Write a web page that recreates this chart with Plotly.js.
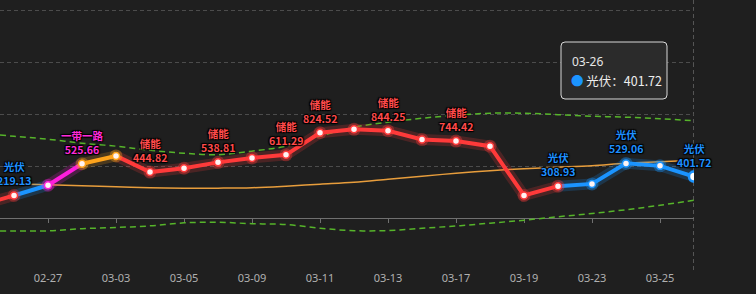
<!DOCTYPE html>
<html><head><meta charset="utf-8">
<script src="https://cdn.plot.ly/plotly-3.0.1.min.js"></script>
<style>html,body{margin:0;padding:0;background:#1f1f1f;}#chart{width:756px;height:294px;}</style>
</head><body><div id="chart"></div>
<script>
const dates = ['02-25','02-26','02-27','03-02','03-03','03-04','03-05','03-06','03-09','03-10','03-11','03-12','03-13','03-16','03-17','03-18','03-19','03-20','03-23','03-24','03-25','03-26'];
const values = [125, 219.13, 318, 525.66, 601, 444.82, 482, 538.81, 582, 611.29, 824.52, 858, 844.25, 759, 744.42, 695, 219, 308.93, 331, 529.06, 505, 401.72];
const maLine = [347, 333, 323, 314, 304, 294, 290, 290, 294, 309, 328, 347, 376, 405, 434, 458, 478, 492, 507, 531, 545, 560];
const upperBand = [820, 791, 762, 724, 695, 656, 627, 613, 647, 695, 791, 878, 926, 965, 994, 1013, 1013, 999, 984, 975, 960, 941];
const lowerBand = [-123, -123, -123, -101, -90, -74, -45, -39, -53, -61, -97, -121, -119, -97, -75, -48, -19, 14, 45, 82, 125, 174];
const pointTheme = ['储能','储能','一带一路','其他','其他','储能','储能','储能','储能','储能','储能','储能','储能','储能','储能','储能','储能','储能','光伏','光伏','光伏','光伏'];
const segmentTheme = ['储能','光伏','一带一路','其他','储能','储能','储能','储能','储能','储能','储能','储能','储能','储能','储能','储能','储能','光伏','光伏','光伏','光伏'];
const labelDates = ['02-26','03-02','03-04','03-06','03-10','03-11','03-13','03-17','03-20','03-24','03-26'];
const labelThemes = ['光伏','一带一路','储能','储能','储能','储能','储能','储能','光伏','光伏','光伏'];
const tickLabels = ['02-27','03-03','03-05','03-09','03-11','03-13','03-17','03-19','03-23','03-25'];
const tooltipDate = '03-26';
const tooltipTheme = '光伏';

// styles
const themeColor = {'储能':'#ff3a3a','光伏':'#1b94ff','一带一路':'#ff1edc','其他':'#ffa41c'};
const labelColor = {'储能':'#ff4a4a','光伏':'#1e90ff','一带一路':'#ff2ad8','其他':'#ffa41c'};
const yRange = [-500, 2106];
const xRange = [0.588, dates.length - 1];
const plotW = 694, plotH = 270;

const traces = [];
traces.push({x: dates, y: upperBand, mode: 'lines', line: {color: '#56b42a', width: 1.5, dash: '6px,4px', shape: 'spline'}, hoverinfo: 'skip'});
traces.push({x: dates, y: lowerBand, mode: 'lines', line: {color: '#56b42a', width: 1.5, dash: '6px,4px', shape: 'spline'}, hoverinfo: 'skip'});
traces.push({x: dates, y: maLine, mode: 'lines', line: {color: '#e79d3c', width: 1.5, shape: 'spline'}, hoverinfo: 'skip'});

const runs = [];
segmentTheme.forEach((t, i) => {
  const last = runs[runs.length - 1];
  if (last && last.theme === t) last.end = i + 1;
  else runs.push({theme: t, start: i, end: i + 1});
});
runs.forEach(r => {
  traces.push({x: dates.slice(r.start, r.end + 1), y: values.slice(r.start, r.end + 1), mode: 'lines',
    line: {color: themeColor[r.theme], width: 11}, opacity: 0.2, hoverinfo: 'skip'});
});
runs.forEach(r => {
  traces.push({x: dates.slice(r.start, r.end + 1), y: values.slice(r.start, r.end + 1), mode: 'lines',
    line: {color: themeColor[r.theme], width: 4}, hoverinfo: 'skip'});
});
const ptColors = pointTheme.map(t => themeColor[t]);
traces.push({x: dates, y: values, mode: 'markers', marker: {size: 13, color: ptColors, opacity: 0.35}, hoverinfo: 'skip'});
traces.push({x: dates, y: values, mode: 'markers', marker: {size: 7, color: '#fff3f3', line: {color: ptColors, width: 1.5}}, hoverinfo: 'skip'});
const hi = dates.indexOf(tooltipDate);
traces.push({x: [dates[hi]], y: [values[hi]], mode: 'markers', marker: {size: 10, color: '#ffffff', line: {color: themeColor[tooltipTheme], width: 2.5}}, hoverinfo: 'skip'});
traces.push({x: dates, y: dates.map(() => null), xaxis: 'x2', yaxis: 'y', mode: 'lines', hoverinfo: 'skip'});

const annotations = [];
const shadow = '1px 1px 1px #000, -1px -1px 1px #000, 1px -1px 1px #000, -1px 1px 1px #000';
labelDates.forEach((d, k) => {
  const v = values[dates.indexOf(d)];
  const c = labelColor[labelThemes[k]];
  annotations.push({x: d, y: v, xref: 'x', yref: 'y', text: labelThemes[k] + '<br>' + v.toFixed(2), showarrow: false,
    yanchor: 'bottom', yshift: 6, borderpad: 0,
    font: {family: 'Noto Sans CJK SC, Noto Sans, sans-serif', size: 10.5, color: c, weight: 'bold', shadow: shadow}});
});

const PX = px => px / plotW, PY = py => 1 - py / plotH;
function roundRect(x0, y0, x1, y1, r) {
  return `M${PX(x0 + r)},${PY(y0)} L${PX(x1 - r)},${PY(y0)} Q${PX(x1)},${PY(y0)} ${PX(x1)},${PY(y0 + r)} ` +
    `L${PX(x1)},${PY(y1 - r)} Q${PX(x1)},${PY(y1)} ${PX(x1 - r)},${PY(y1)} L${PX(x0 + r)},${PY(y1)} ` +
    `Q${PX(x0)},${PY(y1)} ${PX(x0)},${PY(y1 - r)} L${PX(x0)},${PY(y0 + r)} Q${PX(x0)},${PY(y0)} ${PX(x0 + r)},${PY(y0)} Z`;
}
annotations.push({xref: 'paper', yref: 'paper', x: PX(570), y: PY(61.5), xanchor: 'left', yanchor: 'middle', showarrow: false,
  text: tooltipDate, font: {family: 'Noto Sans, sans-serif', size: 12, color: '#e6e6e6'}});
annotations.push({xref: 'paper', yref: 'paper', x: PX(569), y: PY(80), xanchor: 'left', yanchor: 'middle', showarrow: false,
  text: `<span style="color:${themeColor[tooltipTheme]}">●</span> ${tooltipTheme}：${values[hi].toFixed(2)}`,
  font: {family: 'Noto Sans CJK SC, sans-serif', size: 12.5, color: '#eeeeee'}});

const layout = {
  width: 756, height: 294,
  margin: {l: 0, r: 62, t: 0, b: 24},
  paper_bgcolor: '#1f1f1f', plot_bgcolor: '#1f1f1f',
  showlegend: false, hovermode: false,
  xaxis: {type: 'category', categoryorder: 'array', categoryarray: dates, range: xRange, tickvals: tickLabels,
    showgrid: false, zeroline: false, showline: false, ticks: '',
    tickfont: {family: 'Noto Sans, sans-serif', size: 11, color: '#b0b0b0'}},
  xaxis2: {type: 'category', categoryorder: 'array', categoryarray: dates, range: xRange, tickvals: tickLabels,
    overlaying: 'x', anchor: 'free', position: (0 - yRange[0]) / (yRange[1] - yRange[0]),
    showticklabels: false, ticks: 'outside', ticklen: 4, tickcolor: '#707070', showline: true, linecolor: '#707070',
    linewidth: 1, showgrid: false, zeroline: false, layer: 'below traces'},
  yaxis: {range: yRange, tick0: 0, dtick: 500, showticklabels: false, showgrid: true, gridcolor: '#4c4c4c',
    griddash: '4px,3px', gridwidth: 1, zeroline: false, showline: false},
  shapes: [
    {type: 'line', xref: 'x', yref: 'paper', x0: tooltipDate, x1: tooltipDate, y0: 0, y1: 1,
      line: {color: '#8c8c8c', width: 1, dash: '4px,3px'}, layer: 'below'},
    {type: 'path', xref: 'paper', yref: 'paper', path: roundRect(561, 42, 667, 99, 4),
      fillcolor: '#2b2b2b', line: {color: '#d8d8d8', width: 1}, layer: 'above'}
  ],
  annotations: annotations
};
Plotly.newPlot('chart', traces, layout, {displayModeBar: false, staticPlot: true});
</script>
</body></html>
